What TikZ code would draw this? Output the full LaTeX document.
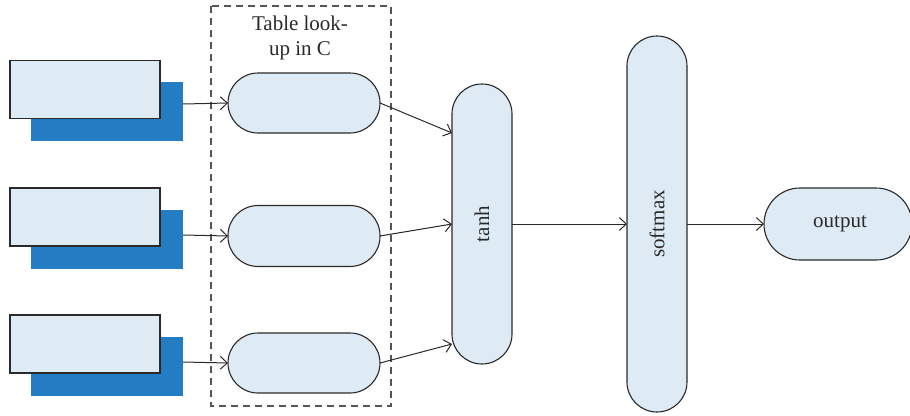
\documentclass[tikz,border=0pt]{standalone}
\usepackage{graphicx}
\usepackage{fontspec}
\setmainfont{Liberation Serif}
\usetikzlibrary{arrows.meta,calc}
\definecolor{paleblue}{HTML}{DEEAF4}
\definecolor{deepblue}{HTML}{247CC2}
\definecolor{edge}{HTML}{2A2A2A}
\definecolor{dashgray}{HTML}{555555}
\begin{document}
\begin{tikzpicture}[x=1pt,y=-1pt,
  every node/.style={font=\fontsize{21}{25}\selectfont, inner sep=0pt, outer sep=0pt, text=edge},
  shadowbox/.style={fill=deepblue, draw=none, rectangle, minimum width=152pt, minimum height=59pt},
  frontbox/.style={fill=paleblue, draw=edge, line width=1.2pt, rectangle, minimum width=150pt, minimum height=58pt},
  pill/.style={fill=paleblue, draw=edge, line width=1.1pt, rectangle, rounded corners=#1},
  conn/.style={draw=edge, line width=1pt, -{Straight Barb[length=7pt,width=13pt,line width=1pt]}},
  frame/.style={draw=dashgray, line width=1.3pt, dash pattern=on 7pt off 5pt}
]
\useasboundingbox (0,0) rectangle (910,415);

% dashed frame around the look-up stage
\draw[frame] (211,6) rectangle (391,406);
\node[align=center] (lookup) at (300,38) {Table look-\\up in C};

% input word boxes with their shadows
\node[shadowbox] (s1) at (107,111.5) {};
\node[frontbox]  (w1) at (85,89.5) {};
\node[shadowbox] (s2) at (107,239) {};
\node[frontbox]  (w2) at (85,217) {};
\node[shadowbox] (s3) at (107,366) {};
\node[frontbox]  (w3) at (85,344) {};

% embedding look-ups
\node[pill=30pt, minimum width=152pt, minimum height=60pt] (c1) at (304,103) {};
\node[pill=30pt, minimum width=152pt, minimum height=61pt] (c2) at (304,236) {};
\node[pill=30pt, minimum width=152pt, minimum height=60pt] (c3) at (304,363) {};

% hidden and output layers
\node[pill=30pt, minimum width=60pt, minimum height=280pt] (tanh) at (482,224) {\rotatebox{90}{tanh}};
\node[pill=30pt, minimum width=60pt, minimum height=376pt] (soft) at (657,224) {\rotatebox{90}{softmax}};
\node[pill=36pt, minimum width=148pt, minimum height=72pt] (out) at (838,224) {\hspace*{4pt}output};

% connectors
\draw[conn] ([yshift=7.5pt]s1.east) -- (c1.west);
\draw[conn] ([yshift=4pt]s2.east) -- (c2.west);
\draw[conn] ([yshift=4pt]s3.east) -- (c3.west);
\draw[conn] (c1.east) -- ([yshift=91pt]tanh.west);
\draw[conn] (c2.east) -- (tanh.west);
\draw[conn] (c3.east) -- ([yshift=-120pt]tanh.west);
\draw[conn] (tanh.east) -- (soft.west);
\draw[conn] (soft.east) -- (out.west);
\end{tikzpicture}
\end{document}
